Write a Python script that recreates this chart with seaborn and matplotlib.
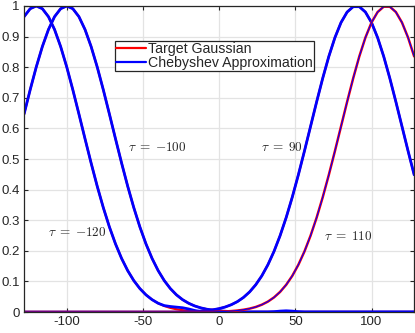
import matplotlib
matplotlib.use("Agg")
import matplotlib.pyplot as plt
from matplotlib.lines import Line2D
import seaborn as sns
import pandas as pd

x = [-128, -124, -120, -116, -112, -108, -104, -100, -96, -92, -88, -84, -80,
     -76, -72, -68, -64, -60, -56, -52, -48, -44, -40, -36, -32, -28, -24, -20,
     -16, -12, -8, -4, 0, 4, 8, 12, 16, 20, 24, 28, 32, 36, 40, 44, 48, 52, 56,
     60, 64, 68, 72, 76, 80, 84, 88, 92, 96, 100, 104, 108, 112, 116, 120, 124, 128]

target_m120 = [0.9651, 0.9911, 1.0, 0.9911, 0.9651, 0.9231, 0.8674, 0.8007, 0.7261, 0.6469,
               0.5661, 0.4868, 0.4111, 0.3411, 0.2780, 0.2226, 0.1751, 0.1353, 0.1027, 0.0766,
               0.0561, 0.0404, 0.0286, 0.0198, 0.0135, 0.0091, 0.0060, 0.0039, 0.0025, 0.0015,
               0.0009, 0, 0, 0, 0, 0, 0, 0, 0, 0,
               0, 0, 0, 0, 0, 0, 0, 0, 0, 0,
               0, 0, 0, 0, 0, 0, 0, 0, 0, 0,
               0, 0, 0, 0, 0]
approx_m120 = [0.9651, 0.9911, 1.0, 0.9911, 0.9651, 0.9231, 0.8674, 0.8007, 0.7261, 0.6469,
               0.5661, 0.4868, 0.4111, 0.3411, 0.2780, 0.2226, 0.1751, 0.1353, 0.1027, 0.0766,
               0.0561, 0.0404, 0.0286, 0.0210, 0.0180, 0.0160, 0.0140, 0.0100, 0.0050, 0.0010,
               -0.0030, -0.0040, -0.0020, 0.0005, 0.0010, 0.0010, 0, 0, 0, 0,
               0, 0, 0, 0, 0, 0, 0, 0, 0, 0,
               0, 0, 0, 0, 0, 0, 0, 0, 0, 0,
               0, 0, 0, 0, 0]

target_m100 = [0.6469, 0.7261, 0.8007, 0.8674, 0.9231, 0.9651, 0.9911, 1.0, 0.9911, 0.9651,
               0.9231, 0.8674, 0.8007, 0.7261, 0.6469, 0.5661, 0.4868, 0.4111, 0.3411, 0.2780,
               0.2226, 0.1751, 0.1353, 0.1027, 0.0766, 0.0561, 0.0404, 0.0286, 0.0198, 0.0135,
               0.0091, 0.0060, 0.0039, 0.0025, 0.0015, 0.0009, 0, 0, 0, 0,
               0, 0, 0, 0, 0, 0, 0, 0, 0, 0,
               0, 0, 0, 0, 0, 0, 0, 0, 0, 0,
               0, 0, 0, 0, 0]
approx_m100 = [0.6469, 0.7261, 0.8007, 0.8674, 0.9231, 0.9651, 0.9911, 1.0, 0.9911, 0.9651,
               0.9231, 0.8674, 0.8007, 0.7261, 0.6469, 0.5661, 0.4868, 0.4111, 0.3411, 0.2780,
               0.2226, 0.1751, 0.1353, 0.1027, 0.0766, 0.0561, 0.0404, 0.0286, 0.0198, 0.0135,
               0.0091, 0.0060, 0.0039, 0.0025, 0.0015, 0.0009, 0, 0, 0, 0,
               0, 0.0010, 0.0030, 0.0040, 0.0030, 0.0010, 0, 0, 0, 0,
               0, 0, 0, 0, 0, 0, 0, 0, 0, 0,
               0, 0, 0, 0, 0]

target_90 = [0, 0, 0, 0, 0, 0, 0, 0, 0, 0,
             0, 0, 0, 0, 0, 0, 0, 0, 0, 0,
             0, 0, 0, 0, 0, 0, 0, 0.0012, 0.0019, 0.0031,
             0.0048, 0.0074, 0.0111, 0.0164, 0.0239, 0.0340, 0.0477, 0.0657, 0.0889, 0.1181,
             0.1543, 0.1979, 0.2494, 0.3086, 0.3753, 0.4483, 0.5261, 0.6065, 0.6869, 0.7642,
             0.8353, 0.8968, 0.9460, 0.9802, 0.9978, 0.9978, 0.9802, 0.9460, 0.8968, 0.8353,
             0.7642, 0.6869, 0.6065, 0.5261, 0.4483]
approx_90 = list(target_90)

target_110 = [0, 0, 0, 0, 0, 0, 0, 0, 0, 0,
              0, 0, 0, 0, 0, 0, 0, 0, 0, 0,
              0, 0, 0, 0, 0, 0, 0, 0, 0, 0,
              0, 0, 0.0012, 0.0019, 0.0031, 0.0048, 0.0074, 0.0111, 0.0164, 0.0239,
              0.0340, 0.0477, 0.0657, 0.0889, 0.1181, 0.1543, 0.1979, 0.2494, 0.3086, 0.3753,
              0.4483, 0.5261, 0.6065, 0.6869, 0.7642, 0.8353, 0.8968, 0.9460, 0.9802, 0.9978,
              0.9978, 0.9802, 0.9460, 0.8968, 0.8353]
approx_110 = list(target_110)

taus = [-120, -100, 90, 110]
tau_labels = [r"$\tau\;=\;{-}120$", r"$\tau\;=\;{-}100$", r"$\tau\;=\;90$", r"$\tau\;=\;110$"]
label_x = [-112, -59.5, 27.2, 69.1]
label_y = [0.26, 0.539, 0.539, 0.248]

xtick_vals = [-100, -50, 0, 50, 100]
ytick_vals = [0, 0.1, 0.2, 0.3, 0.4, 0.5, 0.6, 0.7, 0.8, 0.9, 1]
ytick_labels = ["0", "0.1", "0.2", "0.3", "0.4", "0.5", "0.6", "0.7", "0.8", "0.9", "1"]

sns.set_theme(style="whitegrid")
plt.rcParams["font.family"] = ["Liberation Sans", "DejaVu Sans"]
plt.rcParams["mathtext.fontset"] = "cm"

fig = plt.figure(figsize=(4.15, 3.33), dpi=100)
ax = fig.add_axes([0.058, 0.063, 0.940, 0.919])

series = [(target_m120, approx_m120), (target_m100, approx_m100),
          (target_90, approx_90), (target_110, approx_110)]
for i, (tgt, apx) in enumerate(series):
    df = pd.DataFrame({"x": x, "target": tgt, "approx": apx})
    last = i == len(series) - 1
    sns.lineplot(data=df, x="x", y="target", color="#ff0000",
                 linewidth=1.8 if last else 1.6, ax=ax, sort=False, estimator=None)
    sns.lineplot(data=df, x="x", y="approx", color="#0000ff",
                 linewidth=0.8 if last else 2.0, ax=ax, sort=False, estimator=None)

for lx, ly, txt in zip(label_x, label_y, tau_labels):
    ax.text(lx, ly, txt, fontsize=9.5, color="#262626", ha="left", va="center")

ax.set_xlim(-128, 128)
ax.set_ylim(0, 1)
ax.set_xticks(xtick_vals)
ax.set_xticklabels([str(v) for v in xtick_vals])
ax.set_yticks(ytick_vals)
ax.set_yticklabels(ytick_labels)
ax.set_xlabel("")
ax.set_ylabel("")
ax.grid(True, color="#e3e3e3", linewidth=0.9)
ax.set_facecolor("white")
for s in ax.spines.values():
    s.set_visible(True)
    s.set_color("#262626")
    s.set_linewidth(0.9)
ax.tick_params(axis="both", which="both", direction="in", length=3, width=0.8,
               colors="#262626", labelsize=9.5, top=True, right=True,
               bottom=True, left=True, pad=3)

handles = [Line2D([], [], color="#ff0000", lw=1.6),
           Line2D([], [], color="#0000ff", lw=1.6)]
leg = ax.legend(handles, ["Target Gaussian", "Chebyshev Approximation"],
                loc="upper left", bbox_to_anchor=(0.233, 0.886), borderaxespad=0,
                fontsize=10.2, frameon=True, fancybox=False, framealpha=1,
                edgecolor="#262626", handlelength=2.1, handletextpad=0.15,
                labelspacing=-0.05, borderpad=0.1)
leg.get_frame().set_linewidth(0.9)

fig.savefig("out.png", dpi=100)
